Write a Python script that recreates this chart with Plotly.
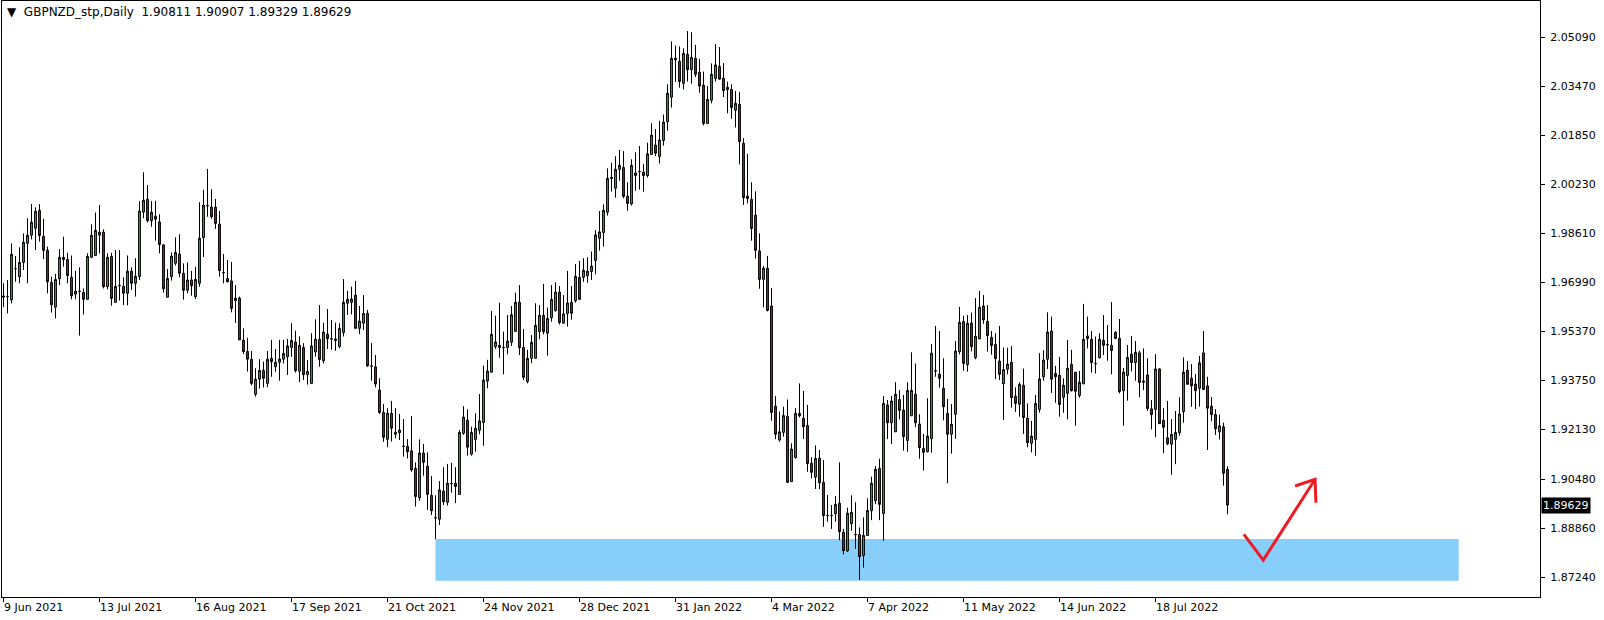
import plotly.graph_objects as go

# ---- data ----
open_ = [1.9650,1.9652,1.9641,1.9744,1.9718,1.9765,1.9828,1.9855,1.9878,1.9937,
1.9851,1.9805,1.9699,1.9617,1.9711,1.9782,1.9775,1.9716,1.9660,1.9670,
1.9666,1.9643,1.9782,1.9788,1.9855,1.9865,1.9685,1.9785,1.9633,1.9689,
1.9686,1.9663,1.9736,1.9696,1.9718,1.9931,1.9974,1.9903,1.9918,1.9899,
1.9823,1.9650,1.9718,1.9762,1.9793,1.9729,1.9673,1.9707,1.9652,1.9696,
1.9847,1.9953,1.9948,1.9948,1.9892,1.9732,1.9712,1.9704,1.9639,1.9647,
1.9508,1.9471,1.9445,1.9329,1.9379,1.9408,1.9365,1.9448,1.9420,1.9435,
1.9445,1.9453,1.9484,1.9502,1.9405,1.9484,1.9394,1.9365,1.9469,1.9511,
1.9440,1.9528,1.9513,1.9512,1.9487,1.9533,1.9630,1.9633,1.9657,1.9547,
1.9564,1.9597,1.9423,1.9420,1.9343,1.9269,1.9180,1.9266,1.9197,1.9202,
1.9158,1.9157,1.9142,1.9084,1.8987,1.9135,1.9091,1.8995,1.8921,1.8916,
1.9009,1.8972,1.9035,1.9035,1.8998,1.9200,1.9243,1.9131,1.9180,1.9210,
1.9236,1.9373,1.9402,1.9487,1.9491,1.9484,1.9484,1.9501,1.9537,1.9633,
1.9484,1.9371,1.9448,1.9448,1.9536,1.9590,1.9531,1.9582,1.9606,1.9667,
1.9564,1.9596,1.9633,1.9638,1.9716,1.9716,1.9721,1.9735,1.9771,1.9845,
1.9864,1.9931,2.0042,2.0010,2.0073,2.0079,1.9984,1.9958,2.0061,2.0066,
2.0064,2.0052,2.0122,2.0153,2.0115,2.0168,2.0230,2.0311,2.0440,2.0430,
2.0357,2.0453,2.0402,2.0440,2.0394,2.0351,2.0224,2.0301,2.0373,2.0413,
2.0374,2.0336,2.0337,2.0268,2.0288,2.0159,1.9984,1.9974,1.9921,1.9803,
1.9709,1.9746,1.9621,1.9290,1.9178,1.9203,1.9256,1.9040,1.9120,1.9266,
1.9250,1.9226,1.9101,1.9055,1.9118,1.9038,1.8929,1.8929,1.8934,1.8969,
1.8873,1.8811,1.8901,1.8866,1.8866,1.8796,1.8862,1.8944,1.8977,1.9084,
1.8935,1.9294,1.9235,1.9205,1.9312,1.9277,1.9176,1.9258,1.9329,1.9231,
1.9150,1.9139,1.9182,1.9407,1.9396,1.9349,1.9266,1.9197,1.9263,1.9470,
1.9570,1.9427,1.9565,1.9450,1.9512,1.9621,1.9570,1.9517,1.9494,1.9439,
1.9364,1.9412,1.9435,1.9323,1.9296,1.9359,1.9250,1.9167,1.9180,1.9279,
1.9387,1.9445,1.9538,1.9398,1.9392,1.9319,1.9332,1.9428,1.9402,1.9325,
1.9364,1.9522,1.9511,1.9431,1.9450,1.9507,1.9494,1.9491,1.9534,1.9514,
1.9341,1.9391,1.9462,1.9434,1.9466,1.9373,1.9393,1.9281,1.9279,1.9413,
1.9243,1.9185,1.9164,1.9180,1.9202,1.9272,1.9409,1.9382,1.9363,1.9349,
1.9466,1.9357,1.9290,1.9262,1.9205,1.9222,1.90811]

high = [1.9696,1.9707,1.9828,1.9786,1.9815,1.9861,1.9911,1.9958,1.9947,1.9958,
1.9909,1.9817,1.9718,1.9727,1.9809,1.9850,1.9797,1.9788,1.9737,1.9749,
1.9679,1.9795,1.9891,1.9930,1.9955,1.9874,1.9795,1.9797,1.9806,1.9806,
1.9716,1.9788,1.9748,1.9779,1.9968,2.0063,2.0021,1.9968,1.9969,1.9924,
1.9826,1.9743,1.9798,1.9848,1.9858,1.9762,1.9765,1.9737,1.9751,1.9964,
2.0005,2.0074,2.0007,1.9975,1.9935,1.9793,1.9773,1.9767,1.9690,1.9652,
1.9547,1.9516,1.9472,1.9415,1.9445,1.9437,1.9472,1.9509,1.9479,1.9509,
1.9509,1.9512,1.9564,1.9539,1.9520,1.9498,1.9442,1.9531,1.9577,1.9624,
1.9566,1.9611,1.9575,1.9566,1.9564,1.9710,1.9671,1.9685,1.9704,1.9621,
1.9657,1.9608,1.9498,1.9459,1.9382,1.9297,1.9283,1.9307,1.9283,1.9264,
1.9247,1.9181,1.9257,1.9104,1.9180,1.9165,1.9137,1.9059,1.8995,1.9042,
1.9088,1.9099,1.9103,1.9088,1.9211,1.9290,1.9279,1.9222,1.9266,1.9330,
1.9424,1.9443,1.9605,1.9589,1.9632,1.9536,1.9591,1.9621,1.9665,1.9690,
1.9545,1.9476,1.9525,1.9630,1.9624,1.9694,1.9616,1.9690,1.9699,1.9687,
1.9657,1.9737,1.9687,1.9760,1.9770,1.9779,1.9782,1.9801,1.9872,1.9935,
1.9957,2.0076,2.0095,2.0116,2.0137,2.0133,2.0030,2.0106,2.0129,2.0150,
2.0091,2.0161,2.0225,2.0206,2.0233,2.0254,2.0354,2.0496,2.0482,2.0479,
2.0473,2.0530,2.0526,2.0484,2.0438,2.0396,2.0348,2.0423,2.0487,2.0477,
2.0424,2.0363,2.0354,2.0332,2.0329,2.0176,2.0124,2.0030,2.0000,1.9861,
1.9753,1.9786,1.9680,1.9323,1.9272,1.9288,1.9312,1.9167,1.9283,1.9365,
1.9340,1.9294,1.9121,1.9160,1.9145,1.9112,1.8996,1.8963,1.8993,1.9104,
1.8884,1.8954,1.8995,1.8972,1.8889,1.8922,1.8985,1.9057,1.9092,1.9116,
1.9323,1.9310,1.9324,1.9369,1.9343,1.9327,1.9369,1.9468,1.9431,1.9263,
1.9198,1.9316,1.9495,1.9555,1.9538,1.9448,1.9314,1.9297,1.9505,1.9618,
1.9589,1.9591,1.9599,1.9647,1.9671,1.9657,1.9624,1.9538,1.9531,1.9555,
1.9484,1.9483,1.9489,1.9352,1.9369,1.9414,1.9299,1.9241,1.9327,1.9465,
1.9475,1.9600,1.9586,1.9423,1.9453,1.9382,1.9509,1.9476,1.9402,1.9406,
1.9628,1.9586,1.9538,1.9520,1.9531,1.9591,1.9558,1.9634,1.9538,1.9578,
1.9416,1.9492,1.9522,1.9505,1.9473,1.9481,1.9448,1.9310,1.9462,1.9415,
1.9283,1.9307,1.9247,1.9274,1.9319,1.9451,1.9439,1.9429,1.9396,1.9456,
1.9538,1.9387,1.9320,1.9280,1.9262,1.9235,1.90907]

low = [1.9617,1.9597,1.9630,1.9701,1.9696,1.9740,1.9696,1.9841,1.9806,1.9834,
1.9776,1.9663,1.9599,1.9580,1.9690,1.9751,1.9696,1.9643,1.9643,1.9523,
1.9593,1.9643,1.9779,1.9786,1.9795,1.9679,1.9676,1.9622,1.9633,1.9639,
1.9624,1.9623,1.9674,1.9652,1.9707,1.9911,1.9897,1.9883,1.9837,1.9795,
1.9665,1.9650,1.9705,1.9755,1.9716,1.9642,1.9663,1.9655,1.9644,1.9685,
1.9783,1.9916,1.9909,1.9876,1.9718,1.9696,1.9699,1.9600,1.9565,1.9509,
1.9462,1.9404,1.9359,1.9321,1.9348,1.9352,1.9352,1.9387,1.9404,1.9374,
1.9431,1.9393,1.9453,1.9401,1.9369,1.9376,1.9361,1.9365,1.9453,1.9420,
1.9431,1.9479,1.9476,1.9473,1.9481,1.9520,1.9591,1.9593,1.9547,1.9528,
1.9542,1.9420,1.9374,1.9352,1.9264,1.9172,1.9154,1.9173,1.9184,1.9178,
1.9123,1.9117,1.9073,1.8958,1.8977,1.9060,1.8947,1.8930,1.8850,1.8897,
1.8963,1.8961,1.9004,1.8969,1.8998,1.9195,1.9126,1.9126,1.9139,1.9197,
1.9159,1.9349,1.9402,1.9479,1.9450,1.9395,1.9461,1.9489,1.9536,1.9459,
1.9376,1.9365,1.9432,1.9448,1.9511,1.9527,1.9457,1.9569,1.9602,1.9560,
1.9564,1.9553,1.9576,1.9632,1.9641,1.9701,1.9698,1.9707,1.9726,1.9804,
1.9817,1.9920,1.9999,1.9979,2.0035,1.9977,1.9936,1.9953,2.0002,2.0006,
1.9999,2.0046,2.0120,2.0117,2.0092,2.0151,2.0201,2.0277,2.0362,2.0343,
2.0337,2.0363,2.0356,2.0378,2.0326,2.0218,2.0224,2.0291,2.0363,2.0370,
2.0312,2.0258,2.0240,2.0211,2.0089,1.9955,1.9960,1.9837,1.9778,1.9678,
1.9617,1.9603,1.9242,1.9181,1.9172,1.9189,1.9037,1.9040,1.9116,1.9253,
1.9181,1.9073,1.9051,1.9016,1.9016,1.8891,1.8908,1.8884,1.8908,1.8847,
1.8800,1.8808,1.8878,1.8818,1.8715,1.8756,1.8862,1.8913,1.8966,1.8913,
1.8845,1.9181,1.9165,1.9205,1.9246,1.9143,1.9139,1.9258,1.9220,1.9116,
1.9077,1.9137,1.9136,1.9387,1.9351,1.9243,1.9035,1.9133,1.9182,1.9461,
1.9407,1.9404,1.9471,1.9445,1.9512,1.9562,1.9470,1.9460,1.9379,1.9376,
1.9244,1.9395,1.9285,1.9271,1.9255,1.9198,1.9154,1.9137,1.9126,1.9268,
1.9374,1.9413,1.9334,1.9301,1.9255,1.9268,1.9246,1.9338,1.9225,1.9318,
1.9362,1.9481,1.9401,1.9398,1.9447,1.9459,1.9440,1.9395,1.9511,1.9332,
1.9225,1.9308,1.9405,1.9374,1.9319,1.9343,1.9274,1.9213,1.9187,1.9231,
1.9134,1.9161,1.9063,1.9098,1.9192,1.9235,1.9362,1.9288,1.9280,1.9288,
1.9343,1.9145,1.9240,1.9195,1.9180,1.9027,1.89329]

close = [1.9654,1.9652,1.9792,1.9744,1.9765,1.9832,1.9855,1.9898,1.9934,1.9854,
1.9805,1.9701,1.9625,1.9709,1.9782,1.9775,1.9722,1.9655,1.9670,1.9669,
1.9643,1.9785,1.9855,1.9871,1.9865,1.9685,1.9782,1.9646,1.9686,1.9688,
1.9663,1.9736,1.9696,1.9719,1.9935,1.9971,1.9903,1.9931,1.9908,1.9824,
1.9678,1.9712,1.9786,1.9798,1.9729,1.9673,1.9707,1.9688,1.9709,1.9845,
1.9954,1.9952,1.9916,1.9894,1.9738,1.9731,1.9701,1.9613,1.9647,1.9509,
1.9470,1.9445,1.9365,1.9379,1.9408,1.9382,1.9445,1.9437,1.9435,1.9446,
1.9464,1.9489,1.9507,1.9407,1.9491,1.9394,1.9405,1.9489,1.9511,1.9444,
1.9535,1.9513,1.9512,1.9507,1.9547,1.9633,1.9643,1.9644,1.9547,1.9571,
1.9597,1.9423,1.9422,1.9363,1.9269,1.9187,1.9266,1.9217,1.9203,1.9211,
1.9157,1.9139,1.9079,1.8991,1.9135,1.9104,1.8998,1.8944,1.8920,1.9013,
1.8974,1.9035,1.9034,1.9024,1.9203,1.9254,1.9154,1.9203,1.9217,1.9241,
1.9376,1.9406,1.9527,1.9502,1.9484,1.9483,1.9505,1.9592,1.9633,1.9483,
1.9385,1.9448,1.9501,1.9557,1.9590,1.9536,1.9580,1.9643,1.9667,1.9566,
1.9595,1.9631,1.9597,1.9719,1.9643,1.9739,1.9736,1.9753,1.9856,1.9866,
1.9937,2.0043,2.0046,2.0073,2.0086,1.9983,1.9960,2.0086,2.0052,2.0065,
2.0052,2.0124,2.0186,2.0126,2.0170,2.0229,2.0324,2.0440,2.0435,2.0363,
2.0456,2.0402,2.0443,2.0387,2.0348,2.0224,2.0304,2.0387,2.0418,2.0371,
2.0333,2.0344,2.0277,2.0291,2.0164,1.9979,1.9976,1.9877,1.9805,1.9709,
1.9746,1.9606,1.9269,1.9197,1.9205,1.9259,1.9038,1.9148,1.9266,1.9258,
1.9222,1.9100,1.9071,1.9117,1.9037,1.8928,1.8928,1.8928,1.8965,1.8875,
1.8812,1.8936,1.8939,1.8865,1.8792,1.8863,1.8945,1.9035,1.9081,1.8965,
1.9299,1.9235,1.9307,1.9329,1.9276,1.9189,1.9342,1.9342,1.9235,1.9153,
1.9137,1.9191,1.9465,1.9406,1.9382,1.9288,1.9197,1.9230,1.9472,1.9567,
1.9431,1.9564,1.9487,1.9521,1.9617,1.9575,1.9523,1.9490,1.9447,1.9395,
1.9411,1.9429,1.9318,1.9299,1.9362,1.9252,1.9169,1.9191,1.9299,1.9380,
1.9442,1.9535,1.9379,1.9387,1.9295,1.9359,1.9415,1.9341,1.9339,1.9369,
1.9511,1.9513,1.9434,1.9430,1.9511,1.9491,1.9493,1.9474,1.9514,1.9338,
1.9402,1.9451,1.9434,1.9468,1.9368,1.9369,1.9282,1.9262,1.9413,1.9232,
1.9220,1.9165,1.9197,1.9203,1.9264,1.9402,1.9362,1.9357,1.9341,1.9433,
1.9345,1.9283,1.9262,1.9215,1.9225,1.9068,1.89629]

tick_labels = ["9 Jun 2021", "13 Jul 2021", "16 Aug 2021", "17 Sep 2021", "21 Oct 2021",
               "24 Nov 2021", "28 Dec 2021", "31 Jan 2022", "4 Mar 2022", "7 Apr 2022",
               "11 May 2022", "14 Jun 2022", "18 Jul 2022"]
tick_bars = [0, 24, 48, 72, 96, 120, 144, 168, 192, 216, 240, 264, 288]

price_ticks = [1.87240, 1.88860, 1.90480, 1.92130, 1.93750, 1.95370,
               1.96990, 1.98610, 2.00230, 2.01850, 2.03470, 2.05090]

header = "GBPNZD_stp,Daily  1.90811 1.90907 1.89329 1.89629"
last_price = 1.89629

# support zone (bar index, price)
zone = dict(x0=108, x1=363.8, y0=1.8713, y1=1.8851)
# hand-drawn arrow (bar index, price)
arrow_pts = [(310.1, 1.8866), (314.95, 1.8781), (327.9, 1.9048)]
arrow_head = [(322.9, 1.9026), (327.9, 1.9048), (328.1, 1.8971)]

N = len(close)
xs = list(range(N))

FONT = "DejaVu Sans"
FS = 11

fig = go.Figure()
fig.add_trace(go.Candlestick(
    x=xs, open=open_, high=high, low=low, close=close,
    increasing=dict(fillcolor="#1ec81e", line=dict(color="black", width=1)),
    decreasing=dict(fillcolor="#d21414", line=dict(color="black", width=1)),
    whiskerwidth=0, showlegend=False, hoverinfo="skip"))

fig.add_shape(type="rect", xref="x", yref="y", layer="below",
              x0=zone["x0"], x1=zone["x1"], y0=zone["y0"], y1=zone["y1"],
              fillcolor="#87cefa", line=dict(width=0))

def path(pts):
    return "M " + " L ".join(f"{x},{y}" for x, y in pts)

fig.add_shape(type="path", xref="x", yref="y", path=path(arrow_pts),
              line=dict(color="#ed1c24", width=3))
fig.add_shape(type="path", xref="x", yref="y", path=path(arrow_head),
              line=dict(color="#ed1c24", width=3))

# header
fig.add_annotation(xref="paper", yref="paper", x=0, y=1, xanchor="left", yanchor="top",
                   xshift=3, yshift=-2, showarrow=False,
                   text="▼  " + header, font=dict(family=FONT, size=12, color="black"))

# date labels, text starting at the tick like the terminal does
for b, lab in zip(tick_bars, tick_labels):
    fig.add_annotation(xref="x", yref="paper", x=b, y=0, xanchor="left", yanchor="top",
                       xshift=-2, yshift=-2, showarrow=False, text=lab,
                       font=dict(family=FONT, size=FS, color="black"))

# current price box
fig.add_annotation(xref="paper", yref="y", x=1, y=last_price, xanchor="left", yanchor="middle",
                   xshift=1, showarrow=False, text=f"{last_price:.5f}",
                   bgcolor="black", borderpad=1,
                   font=dict(family=FONT, size=FS, color="white"))

fig.update_layout(
    width=1604, height=620,
    margin=dict(l=2, r=64, t=1, b=23),
    paper_bgcolor="white", plot_bgcolor="white",
    font=dict(family=FONT, size=FS, color="black"),
    boxgap=0.35,
    xaxis=dict(range=[-0.375, 384.125], tickvals=tick_bars, showticklabels=False,
               ticks="outside", ticklen=4, tickcolor="black", showline=True,
               linecolor="black", linewidth=1, mirror=True, showgrid=False,
               zeroline=False, rangeslider=dict(visible=False), fixedrange=True),
    yaxis=dict(side="right", range=[1.86589, 2.06293], tickvals=price_ticks,
               ticktext=[f"{v:.5f}" for v in price_ticks],
               ticks="outside", ticklen=4, tickcolor="black", showline=True,
               linecolor="black", linewidth=1, mirror=True, showgrid=False,
               zeroline=False, fixedrange=True, ticklabelstandoff=3),
)

fig.write_html("out.html", config={"displayModeBar": False},
               post_script="document.body.style.margin='0';document.body.style.overflow='hidden';")
